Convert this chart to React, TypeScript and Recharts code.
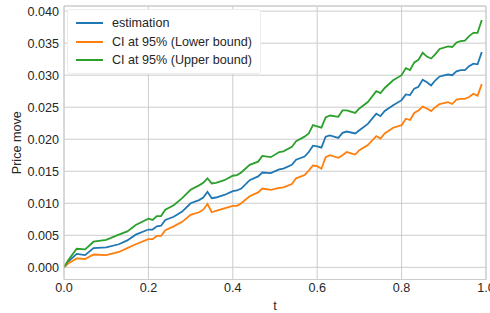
import {
  LineChart, Line, XAxis, YAxis, CartesianGrid, ReferenceLine,
} from "recharts";

const T = [
  0, 0.01, 0.03, 0.05, 0.07, 0.1, 0.13, 0.15, 0.17, 0.2,
  0.21, 0.22, 0.23, 0.24, 0.26, 0.28, 0.3, 0.32, 0.33, 0.34,
  0.35, 0.36, 0.38, 0.4, 0.41, 0.42, 0.44, 0.46, 0.47, 0.49,
  0.51, 0.52, 0.54, 0.55, 0.57, 0.58, 0.59, 0.6, 0.61, 0.62,
  0.63, 0.65, 0.66, 0.67, 0.69, 0.7, 0.72, 0.74, 0.75, 0.76,
  0.78, 0.8, 0.81, 0.82, 0.83, 0.84, 0.85, 0.86, 0.87, 0.88,
  0.89, 0.91, 0.92, 0.93, 0.94, 0.95, 0.96, 0.97, 0.98, 0.99,
];

const ESTIMATION = [
  0, 0.0009, 0.0021, 0.0019, 0.003, 0.0031, 0.0036, 0.0042, 0.0051, 0.0059,
  0.0059, 0.0064, 0.0065, 0.0074, 0.0079, 0.0087, 0.01, 0.0105, 0.0109, 0.0118,
  0.0108, 0.0109, 0.0113, 0.0119, 0.012, 0.0123, 0.0136, 0.0142, 0.0148, 0.0147,
  0.0153, 0.0154, 0.016, 0.0168, 0.0173, 0.018, 0.019, 0.0189, 0.0187, 0.0204,
  0.0206, 0.0202, 0.021, 0.0212, 0.0209, 0.0214, 0.0224, 0.024, 0.0236, 0.0244,
  0.0253, 0.0261, 0.027, 0.0269, 0.0279, 0.0282, 0.0293, 0.0289, 0.0284, 0.0292,
  0.0298, 0.0301, 0.03, 0.0306, 0.0308, 0.0308, 0.0314, 0.0318, 0.0317, 0.0336,
];

const LOWER = [
  0, 0.0006, 0.0014, 0.0013, 0.002, 0.0019, 0.0024, 0.003, 0.0036, 0.0044,
  0.0044, 0.0049, 0.0049, 0.0058, 0.0064, 0.0071, 0.0082, 0.0086, 0.009, 0.0099,
  0.0086, 0.0088, 0.0092, 0.0096, 0.0096, 0.01, 0.0111, 0.0117, 0.0123, 0.0121,
  0.0124, 0.0125, 0.013, 0.0139, 0.0144, 0.0151, 0.0159, 0.0158, 0.0154, 0.0172,
  0.0175, 0.0171, 0.0175, 0.018, 0.0176, 0.0183, 0.0191, 0.0205, 0.0201, 0.0209,
  0.0218, 0.0222, 0.0232, 0.023, 0.0241, 0.0245, 0.0251, 0.0248, 0.0244, 0.025,
  0.0255, 0.0258, 0.0255, 0.0262, 0.0263, 0.0263, 0.0266, 0.0271, 0.0268, 0.0286,
];

const UPPER = [
  0, 0.0011, 0.0029, 0.0028, 0.004, 0.0043, 0.0051, 0.0056, 0.0066, 0.0076,
  0.0074, 0.008, 0.008, 0.009, 0.0097, 0.0108, 0.0121, 0.0128, 0.0132, 0.0139,
  0.0131, 0.0132, 0.0136, 0.0143, 0.0144, 0.0148, 0.016, 0.0165, 0.0174, 0.0172,
  0.018, 0.0181, 0.0188, 0.0197, 0.0204, 0.0209, 0.0222, 0.022, 0.0218, 0.0234,
  0.0237, 0.0235, 0.0245, 0.0245, 0.0241, 0.0248, 0.0258, 0.0275, 0.0272, 0.028,
  0.0292, 0.03, 0.0311, 0.0308, 0.032, 0.0324, 0.0335, 0.0329, 0.0326, 0.0333,
  0.0341, 0.0345, 0.0344, 0.0351, 0.0353, 0.0354, 0.0361, 0.0366, 0.0366, 0.0386,
];

const SERIES = [
  { key: "estimation", name: "estimation", color: "#1f77b4" },
  { key: "lower", name: "CI at 95% (Lower bound)", color: "#ff7f0e" },
  { key: "upper", name: "CI at 95% (Upper bound)", color: "#2ca02c" },
];

const X_TICKS = [0, 0.2, 0.4, 0.6, 0.8, 1.0];
const Y_TICKS = [0, 0.005, 0.01, 0.015, 0.02, 0.025, 0.03, 0.035, 0.04];
const Y_MIN = -0.0019;
const Y_MAX = 0.0408;

const data = T.map((t, i) => ({
  t,
  estimation: ESTIMATION[i],
  lower: LOWER[i],
  upper: UPPER[i],
}));

const FONT = "'Liberation Sans', Arial, sans-serif";
const TEXT = "#262626";
const GRID = "#cccccc";

function LegendBox() {
  return (
    <div
      style={{
        position: "absolute",
        left: 67,
        top: 9,
        background: "#fff",
        border: "1px solid #ececec",
        borderRadius: 3,
        padding: "4px 8px 3px 8px",
        fontFamily: FONT,
        fontSize: 12.6,
        color: TEXT,
      }}
    >
      {SERIES.map((s) => (
        <div key={s.key} style={{ display: "flex", alignItems: "center", height: 18.5, whiteSpace: "nowrap" }}>
          <svg width={27} height={4} style={{ marginRight: 9 }}>
            <line x1={0} y1={2} x2={27} y2={2} stroke={s.color} strokeWidth={2} />
          </svg>
          <span>{s.name}</span>
        </div>
      ))}
    </div>
  );
}

export default function App() {
  return (
    <div style={{ position: "absolute", left: 0, top: 0, width: 490, height: 313, background: "#fff", overflow: "hidden" }}>
      <LineChart
        width={490}
        height={313}
        data={data}
        margin={{ top: 6, right: 4, left: 0, bottom: 0 }}
        style={{ fontFamily: FONT }}
      >
        <CartesianGrid stroke={GRID} strokeWidth={1} horizontal vertical />
        <XAxis
          dataKey="t"
          type="number"
          domain={[0, 1]}
          ticks={X_TICKS}
          interval={0}
          tickFormatter={(v: number) => v.toFixed(1)}
          tick={{ fill: TEXT, fontSize: 12.6 }}
          tickLine={false}
          tickSize={2}
          tickMargin={2}
          axisLine={{ stroke: GRID }}
          height={33.5}
          allowDataOverflow
          label={{ value: "t", position: "insideBottom", offset: 3, fill: TEXT, fontSize: 12.6 }}
        />
        <YAxis
          type="number"
          domain={[Y_MIN, Y_MAX]}
          ticks={Y_TICKS}
          interval={0}
          tickFormatter={(v: number) => v.toFixed(3)}
          tick={{ fill: TEXT, fontSize: 12.6 }}
          tickLine={false}
          tickSize={3}
          tickMargin={2}
          axisLine={{ stroke: GRID }}
          width={64}
          allowDataOverflow
          label={{
            value: "Price move",
            angle: -90,
            position: "insideLeft",
            dx: 12,
            fill: TEXT,
            fontSize: 12.6,
            style: { textAnchor: "middle" },
          }}
        />
        <ReferenceLine y={Y_MAX} stroke={GRID} />
        <ReferenceLine x={1} stroke={GRID} />
        {SERIES.map((s) => (
          <Line
            key={s.key}
            type="linear"
            dataKey={s.key}
            name={s.name}
            stroke={s.color}
            strokeWidth={1.8}
            dot={false}
            isAnimationActive={false}
          />
        ))}
      </LineChart>
      <LegendBox />
    </div>
  );
}
